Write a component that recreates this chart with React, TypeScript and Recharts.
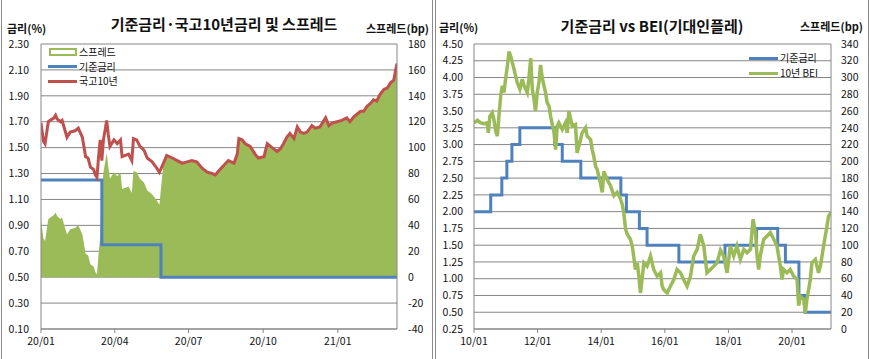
import React from 'react';
import { ComposedChart, Line, Area, XAxis, YAxis, CartesianGrid } from 'recharts';

// ---- 왼쪽: 기준금리·국고10년 (x = 2020-01-01 기준 경과일) ----
const tenYDays = [
  0, 3, 5, 9, 16, 18, 20, 24, 26, 32, 36, 42, 46, 51, 55, 58, 61, 65, 67, 69,
  71, 73, 75, 77, 81, 83, 85, 90, 94, 98, 100, 104, 108, 112, 114, 118, 122, 127, 131, 137,
  143, 146, 151, 155, 162, 168, 174, 180, 186, 192, 199, 205, 211, 215, 219, 225, 231, 238, 242, 244,
  248, 252, 258, 264, 268, 275, 279, 283, 287, 291, 295, 299, 303, 307, 312, 316, 320, 324, 328, 334,
  338, 344, 351, 355, 359, 365, 371, 377, 381, 386, 390, 394, 398, 402, 406, 410, 414, 418, 423, 427,
  431, 435, 437, 439,
];
const tenYRates = [
  1.69, 1.55, 1.53, 1.70, 1.73, 1.75, 1.72, 1.70, 1.71, 1.58, 1.62, 1.63, 1.65, 1.58, 1.43, 1.42, 1.35, 1.33, 1.29, 1.27,
  1.43, 1.56, 1.40, 1.56, 1.71, 1.60, 1.51, 1.56, 1.53, 1.56, 1.43, 1.44, 1.45, 1.40, 1.57, 1.56, 1.51, 1.48, 1.42, 1.39,
  1.34, 1.31, 1.38, 1.44, 1.42, 1.40, 1.38, 1.39, 1.40, 1.39, 1.34, 1.31, 1.30, 1.29, 1.32, 1.36, 1.40, 1.38, 1.45, 1.57,
  1.56, 1.53, 1.51, 1.45, 1.42, 1.43, 1.53, 1.51, 1.49, 1.47, 1.49, 1.53, 1.58, 1.61, 1.57, 1.66, 1.62, 1.61, 1.62, 1.67,
  1.65, 1.66, 1.73, 1.67, 1.69, 1.70, 1.71, 1.73, 1.70, 1.74, 1.76, 1.78, 1.78, 1.82, 1.84, 1.87, 1.86, 1.91, 1.95, 1.96,
  2.00, 2.02, 2.09, 2.15,
];
const baseDaysL = [0, 75, 148, 439];
const baseRatesL = [1.25, 0.75, 0.5, 0.5];
const xTicksL = [0, 91, 182, 274, 366];
const xLabelsL = ['20/01', '20/04', '20/07', '20/10', '21/01'];
const rateTicksL = [0.1, 0.3, 0.5, 0.7, 0.9, 1.1, 1.3, 1.5, 1.7, 1.9, 2.1, 2.3];
const spreadTicksL = [-40, -20, 0, 20, 40, 60, 80, 100, 120, 140, 160, 180];

// ---- 오른쪽: 기준금리 vs BEI (x = 2010-01 기준 경과월) ----
const baseMonthsR = [0, 6.3, 10.5, 12.4, 14.3, 17.3, 30.4, 33.3, 40.3, 55.4, 57.5, 62.4, 65.3, 77.3, 94.7, 106.6, 114.6, 117.5, 122.6, 124.9, 134.7];
const baseRatesR = [2.0, 2.25, 2.5, 2.75, 3.0, 3.25, 3.0, 2.75, 2.5, 2.25, 2.0, 1.75, 1.5, 1.25, 1.5, 1.75, 1.5, 1.25, 0.75, 0.5, 0.5];
const beiMonths = [
  0, 1.3, 2.5, 3.8, 5.0, 5.4, 6.0, 6.9, 7.5, 8.2, 8.8, 9.4, 10.1, 10.7, 11.3, 11.9, 12.6, 13.2, 13.8, 15.1,
  16.3, 17.3, 18.2, 18.8, 20.1, 20.7, 21.4, 22.0, 22.6, 23.2, 23.9, 24.5, 25.1, 25.8, 26.4, 27.0, 27.6, 28.3, 28.9, 30.2,
  30.8, 31.4, 32.0, 33.3, 34.5, 35.2, 35.8, 37.1, 38.3, 38.9, 40.2, 40.8, 42.1, 42.7, 44.0, 44.6, 45.2, 45.9, 46.5, 47.7,
  48.4, 49.0, 50.3, 51.5, 52.8, 54.0, 55.3, 55.9, 56.5, 57.2, 57.8, 59.0, 59.7, 60.3, 60.9, 61.6, 62.2, 62.8, 63.4, 64.1,
  65.3, 66.6, 67.2, 67.8, 69.1, 70.4, 71.0, 71.6, 72.9, 74.1, 75.4, 76.6, 77.9, 79.1, 80.4, 81.7, 82.9, 84.2, 85.4, 86.7,
  87.9, 89.2, 90.5, 91.7, 93.0, 94.2, 95.5, 96.7, 98.0, 99.2, 100.5, 101.8, 103.0, 104.3, 105.3, 106.2, 106.8, 107.4, 108.0, 109.3,
  110.6, 111.8, 113.1, 114.3, 115.6, 116.2, 116.8, 118.1, 119.3, 120.6, 121.9, 122.5, 123.1, 124.4, 125.0, 125.6, 126.9, 127.5, 128.8, 130.0,
  130.7, 131.9, 133.2, 133.8, 134.7,
];
const beiBp = [
  246, 249, 246, 245, 246, 234, 254, 258, 250, 236, 230, 254, 279, 290, 282, 298, 314, 331, 326, 310,
  294, 286, 298, 291, 282, 298, 323, 286, 275, 260, 283, 294, 315, 299, 290, 282, 270, 266, 254, 234,
  214, 242, 246, 238, 246, 234, 260, 242, 244, 210, 226, 234, 240, 230, 226, 214, 206, 194, 190, 174,
  163, 188, 178, 171, 159, 163, 155, 149, 139, 119, 113, 107, 99, 86, 71, 79, 63, 43, 59, 79,
  75, 87, 79, 71, 63, 67, 51, 47, 43, 51, 59, 71, 67, 59, 51, 63, 87, 95, 113, 99,
  67, 71, 75, 79, 94, 87, 67, 99, 87, 99, 83, 95, 91, 95, 131, 115, 87, 71, 87, 107,
  111, 115, 107, 99, 75, 59, 71, 67, 71, 63, 59, 28, 39, 35, 19, 35, 59, 79, 83, 67,
  75, 99, 123, 135, 139,
];
const xTicksR = [0, 24, 48, 72, 96, 120];
const xLabelsR = ['10/01', '12/01', '14/01', '16/01', '18/01', '20/01'];
const rateTicksR = [0.25, 0.5, 0.75, 1, 1.25, 1.5, 1.75, 2, 2.25, 2.5, 2.75, 3, 3.25, 3.5, 3.75, 4, 4.25, 4.5];
const bpTicksR = [0, 20, 40, 60, 80, 100, 120, 140, 160, 180, 200, 220, 240, 260, 280, 300, 320, 340];

const BLUE = '#4F81BD';
const RED = '#C0504D';
const GREEN = '#9BBB59';
const GRID = '#868686';
const FONT = "'Noto Sans CJK KR', 'Noto Sans', sans-serif";

const baseOnDay = (d: number) => {
  let v = baseRatesL[0];
  baseDaysL.forEach((x, i) => { if (d >= x) v = baseRatesL[i]; });
  return v;
};

const tableL = tenYDays.map((d, i) => ({
  day: d,
  tenY: tenYRates[i],
  spread: Math.round((tenYRates[i] - baseOnDay(d)) * 100),
}));
const baseTableL = baseDaysL.map((d, i) => ({ day: d, base: baseRatesL[i] }));
const tableR = beiMonths.map((m, i) => ({ m, bei: beiBp[i] }));
const baseTableR = baseMonthsR.map((m, i) => ({ m, base: baseRatesR[i] }));

const tick = { fill: '#111', fontSize: 10.5, fontFamily: FONT };

const abs = (left: number, top: number, extra: React.CSSProperties = {}): React.CSSProperties => ({
  position: 'absolute', left, top, whiteSpace: 'nowrap', ...extra,
});

const legendText: React.CSSProperties = { display: 'flex', alignItems: 'center', fontSize: 10, lineHeight: '14.5px', height: 14.5 };
const axisTitle: React.CSSProperties = { fontSize: 11, fontWeight: 'bold', lineHeight: '12px', height: 12 };

const LegendLine = ({ color, label, top, left }: { color: string; label: string; top: number; left: number }) => (
  <div style={abs(left, top, legendText)}>
    <span style={{ display: 'inline-block', width: 29, height: 3, background: color, marginRight: 2 }} />
    <span>{label}</span>
  </div>
);

const App: React.FC = () => {
  return (
    <div style={{ position: 'absolute', left: 0, top: 0, width: 869, height: 359, overflow: 'hidden', background: '#fff', fontFamily: FONT, color: '#111' }}>
      <div style={{ position: 'absolute', left: 1, top: -2, width: 432, height: 380, border: '1px solid #8c8c8c', boxSizing: 'border-box' }} />
      <div style={{ position: 'absolute', left: 435, top: -2, width: 434, height: 380, border: '1px solid #8c8c8c', boxSizing: 'border-box' }} />

      {/* 왼쪽 차트 */}
      <div style={abs(0, 0)}>
        <ComposedChart width={431} height={359} data={tableL} margin={{ top: 44, right: 0, bottom: 0, left: 0 }}>
          <CartesianGrid yAxisId="rate" vertical={false} stroke={GRID} />
          <XAxis dataKey="day" type="number" domain={[0, 439]} ticks={xTicksL} interval={0} allowDataOverflow
            tickFormatter={(v: number) => xLabelsL[xTicksL.indexOf(v)]} stroke={GRID} tick={tick} tickSize={4} tickMargin={5} height={30} />
          <YAxis yAxisId="rate" orientation="left" width={41} domain={[0.1, 2.3]} ticks={rateTicksL} interval={0}
            tickFormatter={(v: number) => v.toFixed(2)} stroke={GRID} tick={tick} tickLine={false} tickSize={0} tickMargin={12} allowDataOverflow />
          <YAxis yAxisId="spread" orientation="right" width={34} domain={[-40, 180]} ticks={spreadTicksL} interval={0}
            stroke={GRID} tick={tick} tickLine={false} tickSize={0} tickMargin={11} allowDataOverflow />
          <Area yAxisId="spread" dataKey="spread" type="linear" baseValue={0} fill={GREEN} fillOpacity={1} stroke="none" isAnimationActive={false} />
          <Line yAxisId="rate" data={baseTableL} dataKey="base" type="stepAfter" stroke={BLUE} strokeWidth={3} dot={false} isAnimationActive={false} />
          <Line yAxisId="rate" dataKey="tenY" type="linear" stroke={RED} strokeWidth={3} dot={false} isAnimationActive={false} />
        </ComposedChart>
      </div>
      <div style={abs(24, 15, { width: 400, textAlign: 'center', fontSize: 15, fontWeight: 'bold', lineHeight: '17px' })}>기준금리·국고10년금리 및 스프레드</div>
      <div style={abs(7, 22, axisTitle)}>금리(%)</div>
      <div style={abs(366, 22, axisTitle)}>스프레드(bp)</div>
      <div style={abs(49, 45, legendText)}>
        <span style={{ display: 'inline-block', width: 24, height: 4, border: `2px solid ${GREEN}`, marginRight: 2 }} />
        <span>스프레드</span>
      </div>
      <LegendLine color={BLUE} label="기준금리" left={48} top={59.5} />
      <LegendLine color={RED} label="국고10년" left={48} top={74} />

      {/* 오른쪽 차트 */}
      <div style={abs(434, 0)}>
        <ComposedChart width={435} height={359} data={tableR} margin={{ top: 44, right: 0, bottom: 0, left: 0 }}>
          <CartesianGrid yAxisId="rate" vertical={false} stroke={GRID} />
          <XAxis dataKey="m" type="number" domain={[0, 134.7]} ticks={xTicksR} interval={0} allowDataOverflow
            tickFormatter={(v: number) => xLabelsR[xTicksR.indexOf(v)]} stroke={GRID} tick={tick} tickSize={4} tickMargin={5} height={30} />
          <YAxis yAxisId="rate" orientation="left" width={40} domain={[0.25, 4.5]} ticks={rateTicksR} interval={0}
            tickFormatter={(v: number) => v.toFixed(2)} stroke={GRID} tick={tick} tickLine={false} tickSize={0} tickMargin={11} allowDataOverflow />
          <YAxis yAxisId="bp" orientation="right" width={38} domain={[0, 340]} ticks={bpTicksR} interval={0}
            stroke={GRID} tick={tick} tickLine={false} tickSize={0} tickMargin={10} allowDataOverflow />
          <Line yAxisId="rate" data={baseTableR} dataKey="base" type="stepAfter" stroke={BLUE} strokeWidth={3} dot={false} isAnimationActive={false} />
          <Line yAxisId="bp" dataKey="bei" type="linear" stroke={GREEN} strokeWidth={3.5} dot={false} isAnimationActive={false} />
        </ComposedChart>
      </div>
      <div style={abs(452, 17, { width: 400, textAlign: 'center', fontSize: 15, fontWeight: 'bold', lineHeight: '17px' })}>기준금리 vs BEI(기대인플레)</div>
      <div style={abs(439, 21, axisTitle)}>금리(%)</div>
      <div style={abs(800, 20, axisTitle)}>스프레드(bp)</div>
      <LegendLine color={BLUE} label="기준금리" left={749} top={51} />
      <LegendLine color={GREEN} label="10년 BEI" left={749} top={66} />
    </div>
  );
};

export default App;
